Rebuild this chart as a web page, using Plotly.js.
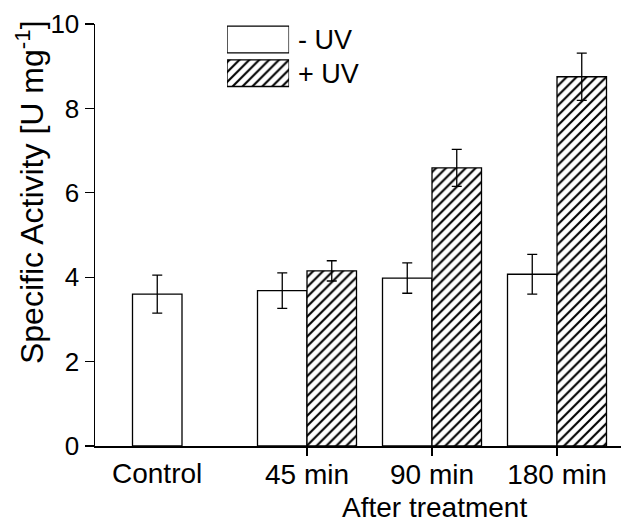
<!DOCTYPE html>
<html>
<head>
<meta charset="utf-8">
<script src="https://cdn.plot.ly/plotly-3.0.1.min.js"></script>
<style>html,body{margin:0;padding:0;background:#fff;}#chart{width:624px;height:519px;}</style>
</head>
<body>
<div id="chart"></div>
<script>
// ---- data ----
const categories = ["Control", "45 min", "90 min", "180 min"];
const minusUV = [3.60, 3.68, 3.98, 4.07];
const minusUVErr = [0.45, 0.42, 0.36, 0.47];
const plusUV = [null, 4.15, 6.59, 8.75];
const plusUVErr = [null, 0.24, 0.44, 0.56];
const seriesNames = ["- UV", "+ UV"];
const yTicks = [0, 2, 4, 6, 8, 10];
const yTitle = "Specific Activity [U mg<sup>-1</sup>]";
const xTitle = "After treatment";

// ---- styling ----
const FONT = "Liberation Sans, Arimo, Arial, sans-serif";
const bargap = 0.208;
const xIdx = categories.map((c, i) => i);
const hatch = {shape: "/", bgcolor: "white", fgcolor: "black", fgopacity: 1, size: 7, solidity: 0.3};
const lineStyle = {color: "black", width: 1.3};
const errStyle = (arr) => ({type: "data", array: arr, visible: true, color: "black", thickness: 1.3, width: 5});

const traces = [
  {type: "bar", name: seriesNames[0], x: xIdx, y: minusUV, error_y: errStyle(minusUVErr),
   marker: {color: "white", line: lineStyle}, showlegend: false, hoverinfo: "skip"},
  {type: "bar", name: seriesNames[1], x: xIdx, y: plusUV, error_y: errStyle(plusUVErr),
   marker: {color: "white", pattern: hatch, line: lineStyle}, showlegend: false, hoverinfo: "skip"},
  // legend swatches drawn on a small auxiliary axis pair
  {type: "bar", orientation: "h", x: [1], y: [seriesNames[0]], xaxis: "x2", yaxis: "y2",
   marker: {color: "white", line: lineStyle}, showlegend: false, hoverinfo: "skip"},
  {type: "bar", orientation: "h", x: [1], y: [seriesNames[1]], xaxis: "x2", yaxis: "y2",
   marker: {color: "white", pattern: hatch, line: lineStyle}, showlegend: false, hoverinfo: "skip"}
];

// offset of the first series inside a group (used to center the Control label under its only bar)
const firstOffset = -(1 - bargap) / 4;

const layout = {
  width: 624, height: 519,
  margin: {l: 95, r: 3, t: 22, b: 73, pad: 0},
  paper_bgcolor: "white", plot_bgcolor: "white",
  font: {family: FONT, color: "black"},
  barmode: "group", bargap: bargap, bargroupgap: 0,
  showlegend: false,
  xaxis: {
    range: [-0.696, 3.512], tickmode: "array", tickvals: xIdx.slice(1), ticktext: categories.slice(1),
    ticks: "outside", ticklen: 8, tickwidth: 1.3, tickcolor: "black", ticklabelstandoff: -5,
    showline: true, linecolor: "black", linewidth: 1.5, showgrid: false, zeroline: false,
    tickfont: {family: FONT, size: 28, color: "black"}
  },
  yaxis: {
    domain: [0, 0.9953], range: [0, 10], tickmode: "array", tickvals: yTicks,
    ticks: "outside", ticklen: 9, tickwidth: 1.3, tickcolor: "black",
    showline: true, linecolor: "black", linewidth: 1.5, showgrid: false, zeroline: false,
    tickfont: {family: FONT, size: 26, color: "black"}
  },
  xaxis2: {domain: [0.251, 0.369], anchor: "y2", range: [0, 1], visible: false, fixedrange: true},
  yaxis2: {domain: [0.8396, 0.9983], anchor: "x2", type: "category",
    categoryorder: "array", categoryarray: [seriesNames[1], seriesNames[0]],
    side: "right", showline: false, showgrid: false, zeroline: false, ticks: "",
    ticklabelstandoff: 8, tickfont: {family: FONT, size: 27, color: "black"}},
  annotations: [
    {text: categories[0], xref: "x", yref: "paper", x: xIdx[0] + firstOffset, y: 0, yshift: -10,
     xanchor: "center", yanchor: "top", showarrow: false, font: {family: FONT, size: 28, color: "black"}},
    {text: xTitle, xref: "paper", yref: "paper", x: 0.645, y: 0, yshift: -44,
     xanchor: "center", yanchor: "top", showarrow: false, font: {family: FONT, size: 28, color: "black"}},
    {text: yTitle, xref: "paper", yref: "paper", x: 0, xshift: -65, y: 0.599, textangle: -90,
     xanchor: "center", yanchor: "middle", showarrow: false, font: {family: FONT, size: 32, color: "black"}}
  ]
};

Plotly.newPlot("chart", traces, layout, {displayModeBar: false, staticPlot: true});
</script>
</body>
</html>
